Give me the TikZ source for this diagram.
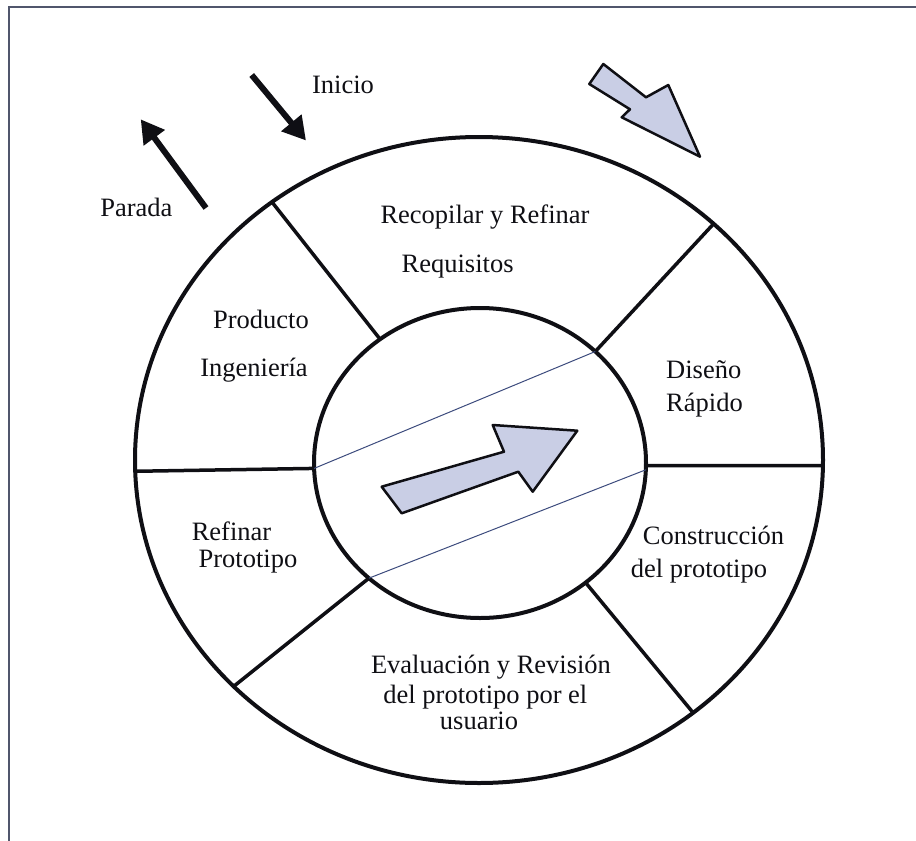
\documentclass[tikz,border=0pt]{standalone}
\usepackage{fontspec}
\setmainfont{Liberation Serif}
\usetikzlibrary{arrows.meta}
\definecolor{framec}{RGB}{80,86,108}
\definecolor{fillblue}{RGB}{201,206,229}
\definecolor{thinblue}{RGB}{60,75,125}
\definecolor{ink}{RGB}{15,15,20}
\begin{document}
\begin{tikzpicture}[x=1pt,y=-1pt,
  lbl/.style={font=\fontsize{26.5}{28}\selectfont, text=ink, inner sep=0pt, anchor=base},
  ring/.style={line width=4pt, draw=ink},
  spoke/.style={line width=3.5pt, draw=ink, line cap=round},
  thin/.style={line width=1pt, draw=thinblue},
  flowarrow/.style={line width=6pt, draw=ink, -{Triangle[length=23pt,width=25pt]}},
  blockarrow/.style={fill=fillblue, draw=ink, line width=2.5pt, line join=round},
  framel/.style={line width=2.5pt, draw=framec}]
\useasboundingbox (0,0) rectangle (916,841);

% frame (left and top edges)
\draw[framel] (9,841) -- (9,7) -- (916,7);

% rings
\draw[ring] (479,460) ellipse [x radius=344pt, y radius=323pt];
\draw[ring] (480,463) ellipse [x radius=166pt, y radius=155pt];

% spoke end points
\coordinate (oTL) at ({479+344*cos(127)},{460-323*sin(127)});
\coordinate (iTL) at ({480+166*cos(127)},{463-155*sin(127)});
\coordinate (oTR) at ({479+344*cos(47)},{460-323*sin(47)});
\coordinate (iTR) at ({480+166*cos(46)},{463-155*sin(46)});
\coordinate (oR)  at ({479+344*cos(-1)},{460-323*sin(-1)});
\coordinate (iR)  at ({480+166*cos(-1)},{463-155*sin(-1)});
\coordinate (oL)  at ({479+344*cos(182)},{460-323*sin(182)});
\coordinate (iL)  at ({480+166*cos(182)},{463-155*sin(182)});
\coordinate (oBL) at ({479+344*cos(224.5)},{460-323*sin(224.5)});
\coordinate (iBL) at ({480+166*cos(228)},{463-155*sin(228)});
\coordinate (oBR) at ({479+344*cos(-51.5)},{460-323*sin(-51.5)});
\coordinate (iBR) at ({480+166*cos(-50.5)},{463-155*sin(-50.5)});
\coordinate (iLow) at ({480+166*cos(-2.5)},{463-155*sin(-2.5)});

\draw[spoke] (oTL) -- (iTL);
\draw[spoke] (oTR) -- (iTR);
\draw[spoke] (iR) -- (oR);
\draw[spoke] (oL) -- (iL);
\draw[spoke] (oBL) -- (iBL);
\draw[spoke] (iBR) -- (oBR);

% thin lines inside the inner ring
\draw[thin] (iL) -- (iTR);
\draw[thin] (iBL) -- (iLow);

% centre block arrow
\filldraw[blockarrow] (381.7,486.7) -- (504,451.7) -- (492.7,425) -- (577.3,430.7)
  -- (532.7,491.7) -- (518.3,471.7) -- (401.7,513.3) -- cycle;

% top-right block arrow
\filldraw[blockarrow] (603.3,64) -- (646,97.3) -- (668.3,85) -- (700,156.7)
  -- (621.7,117.3) -- (630,109.3) -- (589.3,84) -- cycle;

% Inicio / Parada arrows
\coordinate (inS) at (251.7,75);
\coordinate (inE) at (306,140.5);
\coordinate (paS) at (206,208);
\coordinate (paE) at (140.7,119.3);
\draw[flowarrow] (inS) -- (inE);
\draw[flowarrow] (paS) -- (paE);

% labels
\node[lbl] (inicio) at (343,93) {Inicio};
\node[lbl] (parada) at (136.4,216.6) {Parada};
\node[lbl] (rec1) at (485,223.6) {Recopilar y Refinar};
\node[lbl] (rec2) at (457.6,272) {Requisitos};
\node[lbl] (prod1) at (261,328) {Producto};
\node[lbl] (prod2) at (254,376.5) {Ingeniería};
\node[lbl, anchor=base west] (dis1) at (666,378) {Diseño};
\node[lbl, anchor=base west] (dis2) at (666,411) {Rápido};
\node[lbl, anchor=base west] (ref1) at (191.6,540) {Refinar};
\node[lbl] (ref2) at (248,567) {Prototipo};
\node[lbl] (con1) at (713.5,544.4) {Construcción};
\node[lbl] (con2) at (699,577.7) {del prototipo};
\node[lbl] (eva1) at (491,673) {Evaluación y Revisión};
\node[lbl] (eva2) at (485.4,703.7) {del prototipo por el};
\node[lbl] (eva3) at (479,729.5) {usuario};
\end{tikzpicture}
\end{document}
